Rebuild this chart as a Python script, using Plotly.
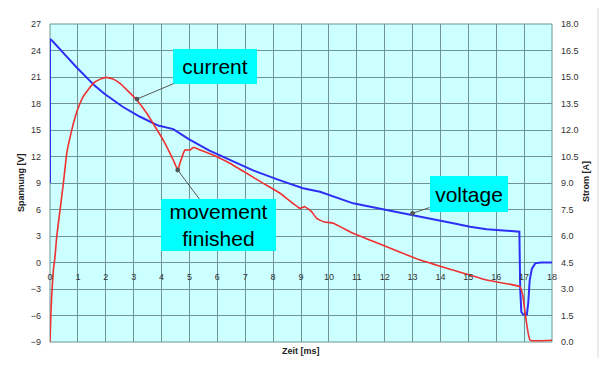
import plotly.graph_objects as go

# Voltage (left axis, V)
t_v = [0, 0, 0.08, 0.3, 0.6, 0.95, 1.31, 1.61, 1.95, 2.27, 2.62, 3.23, 3.88, 4.42, 4.96, 5.7, 6.45, 7.3, 8.25,
       9.07, 9.68, 10.87, 12.07, 13.03, 13.87, 14.46, 15.06, 15.66, 16.37, 16.83,
       16.86, 16.9, 16.97, 17.1, 17.15, 17.2, 17.28, 17.4, 17.6, 18]
voltage = [9.0, 25.3, 25.1, 24.3, 23.3, 22.1, 21.0, 20.0, 19.1, 18.4, 17.6, 16.5, 15.5, 15.1, 14.0, 12.7, 11.6, 10.4, 9.3,
           8.4, 8.0, 6.7, 5.94, 5.38, 4.81, 4.44, 4.05, 3.76, 3.57, 3.49,
           -3.0, -5.6, -5.9, -5.9, -4.5, -2.0, -0.7, -0.1, 0.0, 0.0]

# Current (right axis, A)
t_i = [0, 0.03, 0.06, 0.1, 0.12, 0.18, 0.24, 0.36, 0.48, 0.6, 0.72, 0.84, 1.0, 1.19, 1.55, 1.8, 2.03, 2.27, 2.51,
       2.8, 3.11, 3.47, 3.88, 4.06, 4.42, 4.58, 4.66, 4.78, 4.84, 5.02, 5.14, 5.38, 5.98, 6.45,
       7.05, 7.65, 8.25, 8.96, 9.14, 9.38, 9.56, 9.8, 10.16, 10.87, 12.07, 13.27, 14.46,
       15.66, 16.85, 16.95, 17.21, 18]
current = [0, 1.5, 2.6, 3.6, 4.07, 4.83, 5.96, 7.47, 9.0, 10.68, 11.6, 12.38, 13.2, 13.89, 14.64, 14.88, 14.98, 14.88, 14.64,
           14.2, 13.7, 12.95, 11.9, 11.43, 10.3, 9.74, 10.12, 10.68, 10.87, 10.87, 11.02, 10.87, 10.49, 10.12,
           9.55, 8.98, 8.42, 7.57, 7.66, 7.38, 7.0, 6.81, 6.72, 6.15, 5.39, 4.64, 4.07,
           3.51, 3.13, 2.66, 0.11, 0.1]

x_ticks = list(range(0, 19))
y_ticks = list(range(-9, 28, 3))
y2_ticks = [i * 1.5 for i in range(13)]

tick_font = dict(family="Liberation Sans, Arial", size=9, color="#333333")
grid_col = "#6e9494"

fig = go.Figure()
fig.add_trace(go.Scatter(x=t_v, y=voltage, mode="lines", name="voltage",
                         line=dict(color="#2e2ef5", width=2), yaxis="y"))
fig.add_trace(go.Scatter(x=t_i, y=current, mode="lines", name="current",
                         line=dict(color="#f03030", width=1.6, shape="spline", smoothing=0.3),
                         yaxis="y2"))

# page body has an 8px default margin: figure is drawn 8px right/down
fig.update_layout(
    width=591, height=352,
    margin=dict(l=42, r=47, t=16, b=18),
    paper_bgcolor="white",
    plot_bgcolor="#ccffff",
    showlegend=False,
    xaxis=dict(range=[0, 18], tickvals=x_ticks, showgrid=True, gridcolor=grid_col, gridwidth=1,
               zeroline=False, showline=False, ticks="", tickfont=tick_font,
               anchor="free", position=0.25, ticklabelstandoff=7),
    yaxis=dict(range=[-9, 27], tickvals=y_ticks, showgrid=True, gridcolor=grid_col, gridwidth=1,
               zeroline=False, showline=False, ticks="", tickfont=tick_font, ticklabelstandoff=8),
    yaxis2=dict(range=[0, 18], tickvals=y2_ticks, tickformat=".1f", overlaying="y", side="right",
                showgrid=False, zeroline=False, showline=False, ticks="", tickfont=tick_font,
                ticklabelstandoff=8),
)

# plot frame
fig.add_shape(type="rect", xref="paper", yref="paper", x0=0, y0=0, x1=1, y1=1,
              line=dict(color=grid_col, width=1), layer="below")
# outer right border line
fig.add_shape(type="line", xref="paper", yref="paper", x0=1.0916, x1=1.0916, y0=-0.05, y1=1.05,
              line=dict(color="#d8d8d8", width=1))

title_font = dict(family="Liberation Sans, Arial", size=9, color="#222222")
fig.add_annotation(text="<b>Spannung [V]</b>", xref="paper", yref="paper",
                   x=(14 - 50) / 502, y=(342 - 183) / 318, textangle=-90, showarrow=False,
                   font=title_font)
fig.add_annotation(text="<b>Strom [A]</b>", xref="paper", yref="paper",
                   x=(593 - 50) / 502, y=(342 - 182) / 318, textangle=-90, showarrow=False,
                   font=title_font)
fig.add_annotation(text="<b>Zeit [ms]</b>", xref="paper", yref="paper",
                   x=(301 - 50) / 502, y=(342 - 358) / 318, showarrow=False, font=title_font)

box_font = dict(family="Liberation Sans, Arial", size=21, color="black")
common = dict(showarrow=True, arrowhead=6, arrowsize=1.2, arrowwidth=1, arrowcolor="#555555",
              bgcolor="#00ffff", borderpad=0, borderwidth=0, font=box_font)
fig.add_annotation(text="current", x=3.12, y=18.5, xref="x", yref="y",
                   ax=78, ay=-33, width=84, height=35, **common)
fig.add_annotation(text="movement<br>finished", x=4.58, y=10.47, xref="x", yref="y",
                   ax=41, ay=55, width=115, height=52, **common)
fig.add_annotation(text="voltage", x=13.0, y=5.57, xref="x", yref="y",
                   ax=56, ay=-19, width=78, height=36, **common)

fig.write_html("out.html")
